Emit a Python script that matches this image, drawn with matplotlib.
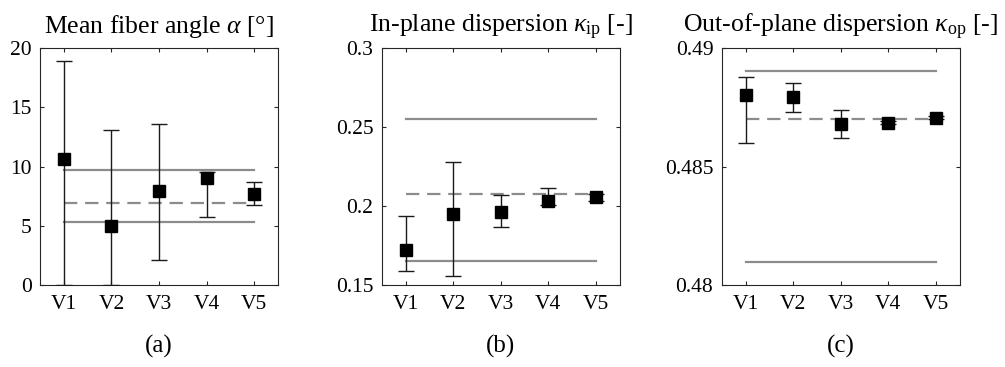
import matplotlib
matplotlib.use("Agg")
import matplotlib.pyplot as plt
import numpy as np

plt.rcParams['font.family'] = ['Liberation Serif', 'DejaVu Serif']
plt.rcParams['mathtext.fontset'] = 'custom'
plt.rcParams['mathtext.rm'] = 'Liberation Serif'
plt.rcParams['mathtext.it'] = 'Liberation Serif:italic'

categories = ['V1', 'V2', 'V3', 'V4', 'V5']

# Panel (a): mean fiber angle
alpha_mean = [10.67, 5.0, 7.95, 8.99, 7.72]
alpha_low = [0.0, 0.0, 2.1, 5.73, 6.74]
alpha_high = [18.88, 13.12, 13.57, 9.55, 8.65]
alpha_ref = [6.94, 5.28, 9.72]  # dashed, lower solid, upper solid

# Panel (b): in-plane dispersion
kip_mean = [0.1721, 0.1947, 0.1961, 0.2031, 0.2054]
kip_low = [0.159, 0.1559, 0.1869, 0.2005, 0.2030]
kip_high = [0.1938, 0.2277, 0.2069, 0.2117, 0.2075]
kip_ref = [0.2079, 0.1652, 0.2553]

# Panel (c): out-of-plane dispersion
kop_mean = [0.48801, 0.48794, 0.48678, 0.48684, 0.48706]
kop_low = [0.48600, 0.48730, 0.48619, 0.48678, 0.48700]
kop_high = [0.48878, 0.48853, 0.48740, 0.48690, 0.48712]
kop_ref = [0.48701, 0.48098, 0.48902]

titles = [r'Mean fiber angle $\mathit{\alpha}$ [°]',
          r'In-plane dispersion $\mathit{\kappa}_{\mathrm{ip}}$ [-]',
          r'Out-of-plane dispersion $\mathit{\kappa}_{\mathrm{op}}$ [-]']
labels = ['(a)', '(b)', '(c)']
ylims = [(0, 20), (0.15, 0.3), (0.48, 0.49)]
yticks = [[0, 5, 10, 15, 20], [0.15, 0.2, 0.25, 0.3], [0.48, 0.485, 0.49]]
yticklabels = [['0', '5', '10', '15', '20'], ['0.15', '0.2', '0.25', '0.3'],
               ['0.48', '0.485', '0.49']]

fig = plt.figure(figsize=(10.05, 3.67), dpi=100)
W, H = 1005, 367
lefts = [40, 381.7, 721.7]
aw, top, bot = 238, 48, 285

datasets = [(alpha_mean, alpha_low, alpha_high, alpha_ref),
            (kip_mean, kip_low, kip_high, kip_ref),
            (kop_mean, kop_low, kop_high, kop_ref)]

x = np.arange(1, len(categories) + 1)
for i, (m, lo, hi, ref) in enumerate(datasets):
    ax = fig.add_axes([lefts[i] / W, (H - bot) / H, aw / W, (bot - top) / H])
    gray = '#8c8c8c'
    ax.plot([x[0], x[-1]], [ref[0], ref[0]], color=gray, lw=1.6, dashes=(6, 3.5), zorder=1)
    ax.plot([x[0], x[-1]], [ref[1], ref[1]], color=gray, lw=1.6, zorder=1)
    ax.plot([x[0], x[-1]], [ref[2], ref[2]], color=gray, lw=1.6, zorder=1)
    m = np.array(m); lo = np.array(lo); hi = np.array(hi)
    ax.errorbar(x, m, yerr=[m - lo, hi - m], fmt='s', color='black', ecolor='#1a1a1a',
                markersize=9, elinewidth=1.0, capsize=5.5, capthick=1.0, zorder=3)
    ax.set_xlim(0.5, 5.5)
    ax.set_ylim(*ylims[i])
    ax.set_xticks(x)
    ax.set_xticklabels(categories)
    ax.set_yticks(yticks[i])
    ax.set_yticklabels(yticklabels[i])
    ax.tick_params(direction='in', top=True, right=True, length=3, width=0.8,
                   labelsize=15.5, colors='#262626', labelcolor='black')
    ax.tick_params(axis='x', pad=7)
    ax.tick_params(axis='y', pad=6)
    for s in ax.spines.values():
        s.set_linewidth(0.8)
        s.set_color('#262626')
    ax.set_title(titles[i], fontsize=18.5, pad=11)
    ax.text(0.5, -0.26, labels[i], transform=ax.transAxes, ha='center', va='center',
            fontsize=18)

fig.savefig('out.png', dpi=100)
